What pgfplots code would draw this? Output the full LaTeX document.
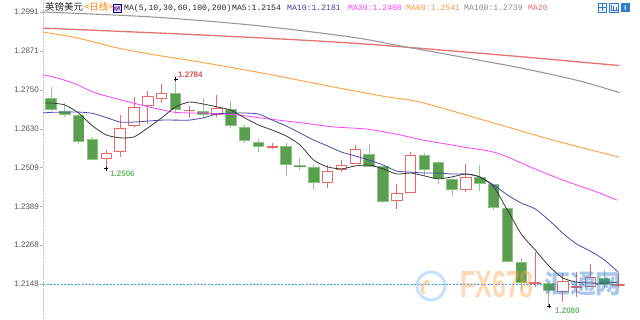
\documentclass[border=0pt]{standalone}
\usepackage{fontspec}
\setmainfont{Liberation Sans}
\newfontfamily\cjk{Noto Sans CJK SC}
\newfontfamily\mono{Liberation Mono}
\usepackage{pgfplots}
\pgfplotsset{compat=1.18}
\usepackage{pgfplotstable}
\definecolor{upred}{HTML}{E86A6A}
\definecolor{dngreen}{HTML}{5A9E4F}
\definecolor{dnedge}{HTML}{8CC583}
\definecolor{dnwick}{HTML}{95CC8E}
\definecolor{ma5}{HTML}{3C3C3C}
\definecolor{ma10}{HTML}{4A4AB0}
\definecolor{ma30}{HTML}{FF40FF}
\definecolor{ma60}{HTML}{FFA64D}
\definecolor{ma100}{HTML}{9A9A9A}
\definecolor{ma200}{HTML}{E57373}
\definecolor{cur}{HTML}{3D9BFF}
\definecolor{ticktext}{HTML}{555555}
\definecolor{lblgreen}{HTML}{6DB86D}
\definecolor{lblred}{HTML}{E05050}

\pgfplotstableread{
i o h l c
1 1.2725 1.2759 1.2684 1.2687
2 1.2684 1.2709 1.2666 1.2672
3 1.2672 1.2675 1.2582 1.2588
4 1.2598 1.2604 1.2532 1.2532
10 1.2740 1.2784 1.2675 1.2687
12 1.2684 1.2725 1.2663 1.2672
14 1.2690 1.2715 1.2632 1.2638
15 1.2635 1.2641 1.2585 1.2591
16 1.2588 1.2598 1.2557 1.2573
18 1.2576 1.2585 1.2483 1.2517
19 1.2515 1.2539 1.2501 1.2512
20 1.2511 1.2520 1.2439 1.2461
24 1.2551 1.2582 1.2511 1.2511
25 1.2514 1.2514 1.2399 1.2402
28 1.2548 1.2554 1.2483 1.2501
29 1.2526 1.2529 1.2458 1.2474
30 1.2474 1.2477 1.2421 1.2439
32 1.2480 1.2517 1.2436 1.2458
33 1.2458 1.2458 1.2377 1.2384
34 1.2384 1.2384 1.2213 1.2216
35 1.2216 1.2229 1.2130 1.2151
37 1.2151 1.2153 1.2080 1.2126
41 1.2167 1.2192 1.2136 1.2145
}\dn

\pgfplotstableread{
i o h l c
5 1.2536 1.2563 1.2506 1.2554
6 1.2557 1.2672 1.2542 1.2632
7 1.2638 1.2728 1.2635 1.2697
8 1.2700 1.2746 1.2644 1.2731
9 1.2721 1.2768 1.2709 1.2740
11 1.2685 1.2700 1.2663 1.2688
13 1.2672 1.2734 1.2666 1.2694
17 1.2571 1.2585 1.2567 1.2574
21 1.2461 1.2517 1.2446 1.2498
22 1.2501 1.2532 1.2495 1.2517
23 1.2520 1.2579 1.2520 1.2567
26 1.2405 1.2458 1.2381 1.2430
27 1.2430 1.2557 1.2430 1.2548
31 1.2439 1.2520 1.2433 1.2480
36 1.2150 1.2247 1.2139 1.2153
38 1.2123 1.2182 1.2092 1.2157
39 1.2138 1.2185 1.2108 1.2141
40 1.2139 1.2210 1.2139 1.2170
42 1.2145 1.2182 1.2139 1.2148
}\up

\pgfplotsset{candle/.style={draw=none, mark=none, forget plot,
  error bars/.cd, y dir=both, y explicit, error mark=none}}

\begin{document}
\begin{tikzpicture}
\useasboundingbox (0,0) rectangle (640bp,320bp);
\fill[white] (0,0) rectangle (640bp,320bp);
\begin{axis}[
  at={(43bp,0)}, anchor=south west,
  scale only axis, width=582bp, height=320bp,
  xmin=0.42, xmax=42.5, ymin=1.20366, ymax=1.30282,
  axis x line=none, axis y line=left,
  y axis line style={-, draw=gray!45, densely dotted},
  ytick={1.2148,1.22684,1.23889,1.25093,1.26297,1.27502,1.28706,1.2991},
  yticklabels={1.2148,1.2268,1.2389,1.2509,1.2630,1.2750,1.2871,1.2991},
  tick align=outside, major tick length=3bp,
  ytick style={draw=gray!60, solid},
  yticklabel style={font=\fontsize{8}{9}\selectfont, text=ticktext, inner xsep=1bp},
  clip=false,
]
% current price line
\addplot[cur, line width=0.7bp, dash pattern=on 2bp off 1.5bp] coordinates {(0.42,1.2148) (42.5,1.2148)};

% wicks
\addplot[candle, error bar style={draw=dnwick, solid, line width=1bp}]
  table[x=i, y expr={(\thisrow{h}+\thisrow{l})/2}, y error expr={(\thisrow{h}-\thisrow{l})/2}] {\dn};
\addplot[candle, error bar style={draw=upred, solid, line width=1bp}]
  table[x=i, y expr={(\thisrow{h}+\thisrow{l})/2}, y error expr={(\thisrow{h}-\thisrow{l})/2}] {\up};
% bodies
\addplot[candle, error bar style={draw=dnedge, solid, line width=11.5bp}]
  table[x=i, y expr={(\thisrow{o}+\thisrow{c})/2}, y error expr={max(abs(\thisrow{o}-\thisrow{c})/2,0.0002)}] {\dn};
\addplot[candle, error bar style={draw=dngreen, solid, line width=9.8bp}]
  table[x=i, y expr={(\thisrow{o}+\thisrow{c})/2}, y error expr={max(abs(\thisrow{o}-\thisrow{c})/2-0.00022,0.00012)}] {\dn};
\addplot[candle, error bar style={draw=upred, solid, line width=11.5bp}]
  table[x=i, y expr={(\thisrow{o}+\thisrow{c})/2}, y error expr={max(abs(\thisrow{o}-\thisrow{c})/2,0.0002)}] {\up};
\addplot[candle, error bar style={draw=white, solid, line width=9.5bp}]
  table[x=i, y expr={(\thisrow{o}+\thisrow{c})/2}, y error expr={max(abs(\thisrow{o}-\thisrow{c})/2-0.0003,0)}] {\up};

% moving averages
\addplot[ma200, line width=1.3bp, smooth] coordinates {(0.42,1.2941)(11.77,1.2920)(22.62,1.2895)(33.47,1.2858)(42.1,1.2825)};
\addplot[ma100, line width=1.1bp, smooth] coordinates {(0.42,1.2991)(8.16,1.2976)(15.39,1.2951)(22.62,1.2914)(26.24,1.2886)(29.85,1.2858)(34.91,1.2818)(39.25,1.2777)(42.1,1.2741)};
\addplot[ma60, line width=1bp, smooth] coordinates {(0.42,1.2929)(2.95,1.2910)(5.77,1.2880)(8.52,1.2858)(11.77,1.2836)(16.62,1.2799)(21.39,1.2759)(25.30,1.2728)(27.68,1.2712)(32.53,1.2653)(37.30,1.2594)(42.1,1.2541)};
\addplot[ma30, line width=0.8bp, smooth] coordinates {(0.42,1.2796)(1.14,1.2790)(2.59,1.2771)(4.04,1.2743)(5.48,1.2725)(6.93,1.2709)(8.38,1.2694)(9.82,1.2681)(11.05,1.2678)(11.99,1.2678)(14.45,1.2672)(16.84,1.2659)(19.22,1.2647)(21.39,1.2635)(23.85,1.2628)(26.24,1.2610)(27.90,1.2594)(30.79,1.2573)(33.25,1.2554)(35.64,1.2511)(38.02,1.2470)(40.48,1.2433)(41.93,1.2408)};
\addplot[ma10, line width=0.8bp, smooth, tension=0.4] coordinates {(0.42,1.2678)(1,1.2680)(2,1.2681)(3,1.2681)(4,1.2677)(5,1.2664)(6,1.2650)(7,1.2650)(8,1.2653)(9,1.2656)(10,1.2656)(11,1.2656)(12,1.2663)(13,1.2675)(14,1.2678)(15,1.2678)(16,1.2675)(17,1.2656)(18,1.2638)(19,1.2616)(20,1.2594)(21,1.2576)(22,1.2557)(23,1.2545)(24,1.2532)(25,1.2517)(26,1.2498)(27,1.2495)(28,1.2492)(29,1.2492)(30,1.2489)(31,1.2489)(32,1.2480)(33,1.2455)(34,1.2424)(35,1.2399)(36,1.2381)(37,1.2346)(38,1.2306)(39,1.2272)(40,1.2250)(41,1.2223)(42,1.2185)};
\addplot[ma5, line width=0.8bp, smooth, tension=0.4] coordinates {(0.57,1.2709)(1,1.2709)(2,1.2703)(3,1.2678)(4,1.2638)(5,1.2610)(6,1.2601)(7,1.2604)(8,1.2632)(9,1.2663)(10,1.2697)(11,1.2712)(12,1.2706)(13,1.2697)(14,1.2687)(15,1.2663)(16,1.2641)(17,1.2625)(18,1.2607)(19,1.2579)(20,1.2532)(21,1.2511)(22,1.2505)(23,1.2514)(24,1.2517)(25,1.2505)(26,1.2489)(27,1.2492)(28,1.2483)(29,1.2474)(30,1.2480)(31,1.2489)(32,1.2480)(33,1.2449)(34,1.2377)(35,1.2303)(36,1.2254)(37,1.2204)(38,1.2167)(39,1.2154)(40,1.2151)(41,1.2151)(42,1.2154)};

% high / low markers
\addplot[only marks, mark=+, mark size=2bp, black, line width=0.6bp] coordinates {(10,1.2784)(5,1.2506)(37,1.2080)};
\node[anchor=west, inner sep=0, text=lblred, font=\bfseries\fontsize{8}{9}\selectfont] at (axis cs:10.18,1.2796) {1.2784};
\node[anchor=west, inner sep=0, text=lblgreen, font=\bfseries\fontsize{8}{9}\selectfont] at (axis cs:5.27,1.2489) {1.2506};
\node[anchor=west, inner sep=0, text=lblgreen, font=\bfseries\fontsize{8}{9}\selectfont] at (axis cs:37.44,1.2064) {1.2080};
\end{axis}

% watermark
\begin{scope}[opacity=0.42]
\draw[cur!70, line width=3bp] (431bp,34bp) circle (14bp);
\draw[orange!80, line width=3bp] (424bp,26bp) arc (220:100:8bp);
\node[text=orange!70, font=\bfseries\fontsize{38}{38}\selectfont, xscale=0.66, inner sep=0] at (497bp,36bp) {FX678};
\node[text=cur!80!black, font=\cjk\bfseries\fontsize{26}{26}\selectfont, inner sep=0] at (583bp,36bp) {汇通网};
\end{scope}

% header
\node[anchor=base west, inner sep=0, font=\cjk\fontsize{9.5}{10}\selectfont, text=black!85] at (45bp,309bp) {英镑美元};
\node[anchor=base west, inner sep=0, font=\cjk\fontsize{9.5}{10}\selectfont, text=orange] at (84bp,309bp) {<日线>};
\draw[blue!55!black, fill=blue!8, line width=0.5bp] (113bp,307.5bp) rectangle (121.5bp,316bp);
\draw[red!80, line width=0.6bp] (114bp,309bp) -- (116bp,314bp) -- (118bp,310bp) -- (120.5bp,314.5bp);
\draw[blue!80, line width=0.6bp] (114bp,313bp) -- (116.5bp,309.5bp) -- (118.5bp,313.5bp) -- (120.5bp,309bp);
\begin{scope}[every node/.style={anchor=base west, inner sep=0, font=\mono\fontsize{8.15}{9}\selectfont}]
\node[text=black!85] at (124bp,309bp) {MA(5,10,30,60,100,200)};
\node[text=black!85] at (232bp,309bp) {MA5:1.2154};
\node[text=ma10!90!black] at (287bp,309bp) {MA10:1.2181};
\node[text=ma30] at (348bp,309bp) {MA30:1.2408};
\node[text=ma60!90!red] at (406bp,309bp) {MA60:1.2541};
\node[text=ma100!90!black] at (464bp,309bp) {MA100:1.2739};
\node[text=ma200] at (528bp,309bp) {MA20};
\end{scope}
% toolbar icons
\draw[cur!80!black, fill=cur!10, line width=0.5bp] (598bp,308bp) rectangle (606.5bp,316.5bp);
\draw[cur!80!black, line width=0.5bp] (602.25bp,309bp) -- (602.25bp,315.5bp) (599bp,312.25bp) -- (605.5bp,312.25bp);
\draw[cur!80!black, fill=cur!10, line width=0.5bp] (609.5bp,308bp) rectangle (618bp,316.5bp);
\draw[cur!80!black, line width=0.5bp] (611bp,310bp) -- (611bp,315bp) (613.5bp,310bp) -- (613.5bp,314bp) (616bp,310bp) -- (616bp,313bp) (610.5bp,310bp) -- (617.5bp,310bp);
\fill[cur!80!black] (621bp,308bp) rectangle (629.5bp,316.5bp);
\node[text=white, font=\bfseries\fontsize{7}{7}\selectfont, inner sep=0] at (625.25bp,312.25bp) {I};
\end{tikzpicture}
\end{document}
